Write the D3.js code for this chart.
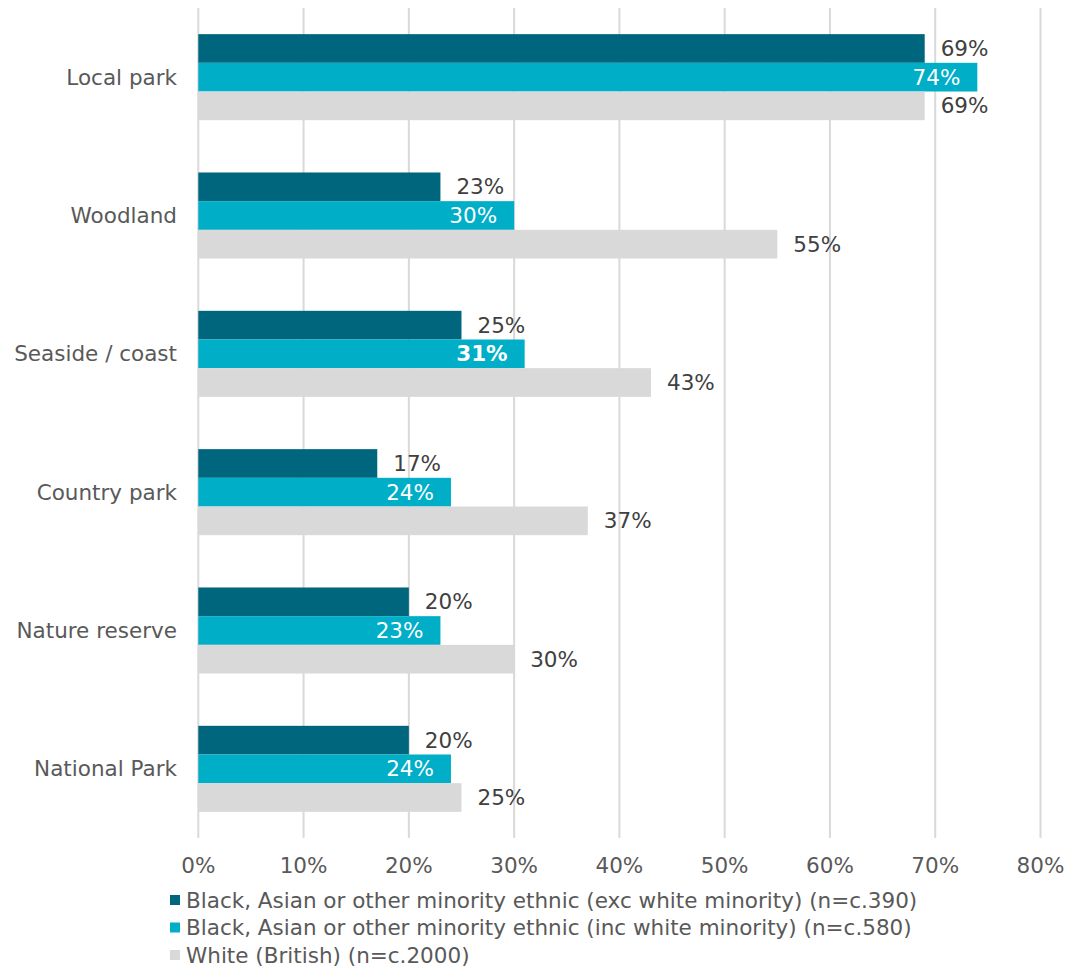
<!DOCTYPE html>
<html>
<head>
<meta charset="utf-8">
<script src="https://cdn.jsdelivr.net/npm/d3@7"></script>
<style>
  html, body { margin: 0; padding: 0; background: #fff; }
  svg { display: block; font-family: "DejaVu Sans", Verdana, sans-serif; }
</style>
</head>
<body>
<svg id="chart" width="1065" height="969"></svg>
<script>
// Places visited, by ethnic group (% of respondents)
const categories = ["Local park", "Woodland", "Seaside / coast", "Country park", "Nature reserve", "National Park"];
const seriesNames = [
  "Black, Asian or other minority ethnic (exc white minority) (n=c.390)",
  "Black, Asian or other minority ethnic (inc white minority) (n=c.580)",
  "White (British) (n=c.2000)"
];
const bameExcWhite = [69, 23, 25, 17, 20, 20];
const bameIncWhite = [74, 30, 31, 24, 23, 24];
const whiteBritish = [69, 55, 43, 37, 30, 25];
const xTicks = [0, 10, 20, 30, 40, 50, 60, 70, 80];

const series = [
  { name: seriesNames[0], values: bameExcWhite, color: "#00667D", labelInside: false },
  { name: seriesNames[1], values: bameIncWhite, color: "#00AEC7", labelInside: true },
  { name: seriesNames[2], values: whiteBritish, color: "#D9D9D9", labelInside: false }
];

const FS = 21.5;
const svg = d3.select("#chart");
const plot = { left: 198.3, right: 1040.5, top: 8, bottom: 838 };

const x = d3.scaleLinear().domain([0, 80]).range([plot.left, plot.right]);
const y = d3.scaleBand().domain(categories).range([plot.top, plot.bottom])
  .paddingInner(0.378).paddingOuter(0.189);
const ySeries = d3.scaleBand().domain(d3.range(series.length)).range([0, y.bandwidth()]);

// vertical gridlines
svg.append("g").selectAll("line").data(xTicks).join("line")
  .attr("x1", d => x(d)).attr("x2", d => x(d))
  .attr("y1", plot.top).attr("y2", plot.bottom)
  .attr("stroke", "#D9D9D9").attr("stroke-width", 2);

// x tick labels
svg.append("g").selectAll("text").data(xTicks).join("text")
  .attr("x", d => x(d)).attr("y", 865)
  .attr("dy", "0.35em").attr("text-anchor", "middle")
  .attr("font-size", FS).attr("fill", "#595959")
  .text(d => d + "%");

// category labels
svg.append("g").selectAll("text").data(categories).join("text")
  .attr("x", 177).attr("y", d => y(d) + y.bandwidth() / 2)
  .attr("dy", "0.35em").attr("text-anchor", "end")
  .attr("font-size", FS).attr("fill", "#595959")
  .text(d => d);

// bars and value labels
series.forEach((s, si) => {
  const g = svg.append("g");
  const rows = categories.map((c, i) => ({ c, v: s.values[i] }));
  g.selectAll("rect").data(rows).join("rect")
    .attr("x", x(0))
    .attr("y", d => y(d.c) + ySeries(si))
    .attr("width", d => x(d.v) - x(0))
    .attr("height", ySeries.bandwidth())
    .attr("fill", s.color);
  g.selectAll("text").data(rows).join("text")
    .attr("x", d => s.labelInside ? x(d.v) - 17 : x(d.v) + 16)
    .attr("y", d => y(d.c) + ySeries(si) + ySeries.bandwidth() / 2)
    .attr("dy", "0.35em")
    .attr("text-anchor", s.labelInside ? "end" : "start")
    .attr("font-size", FS)
    .attr("font-weight", d => (s.labelInside && d.c === "Seaside / coast") ? "bold" : "normal")
    .attr("fill", s.labelInside ? "#FFFFFF" : "#404040")
    .text(d => d.v + "%");
});

// legend
const legend = svg.append("g").selectAll("g").data(series).join("g")
  .attr("transform", (d, i) => `translate(170, ${900 + i * 27.5})`);
legend.append("rect").attr("x", 0).attr("y", -5).attr("width", 10).attr("height", 10)
  .attr("fill", d => d.color);
legend.append("text").attr("x", 16).attr("y", 0).attr("dy", "0.35em")
  .attr("font-size", FS).attr("fill", "#595959")
  .text(d => d.name);
</script>
</body>
</html>
